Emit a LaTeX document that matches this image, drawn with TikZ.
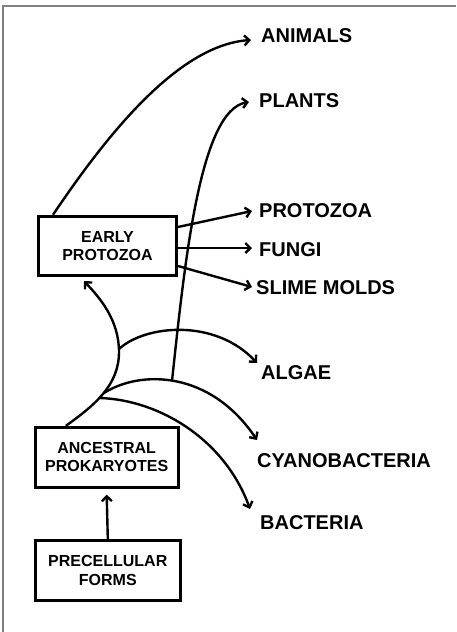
\documentclass[tikz,border=0pt]{standalone}
\usepackage{fontspec}
\setmainfont{Liberation Sans}
\usetikzlibrary{arrows.meta}
\begin{document}
\begin{tikzpicture}[x=1pt,y=-1pt,
  box/.style={draw, line width=3pt, inner sep=0pt, align=center,
    font=\fontsize{16}{18.3}\selectfont\bfseries},
  lbl/.style={anchor=base west, inner sep=0pt, font=\fontsize{20}{22}\selectfont\bfseries},
  conn/.style={line width=2.4pt},
  arr/.style={conn, -{Straight Barb[length=5pt,width=10pt,line width=2.4pt]}}]
\useasboundingbox (0,0) rectangle (456,632);
\draw[gray, line width=1.2pt] (3,632) -- (3,6) -- (456,6);

% boxes
\node[box, minimum width=138pt, minimum height=59pt] (early) at (107.5,245.8) {EARLY\\PROTOZOA};
\node[box, minimum width=142.7pt, minimum height=59.7pt] (ancestral) at (106.7,457.2) {ANCESTRAL\\PROKARYOTES};
\node[box, minimum width=145pt, minimum height=59.6pt] (precell) at (107.8,570.5) {PRECELLULAR\\FORMS};

% labels
\node[lbl] (animals) at (261,42) {ANIMALS};
\node[lbl] (plants) at (259,107) {PLANTS};
\node[lbl] (protozoa) at (259,217) {PROTOZOA};
\node[lbl] (fungi) at (259,256) {FUNGI};
\node[lbl] (slime) at (256,294) {SLIME MOLDS};
\node[lbl] (algae) at (261,379) {ALGAE};
\node[lbl] (cyano) at (257,467) {CYANOBACTERIA};
\node[lbl] (bacteria) at (260,529) {BACTERIA};

% arrow tips and branch points
\coordinate (tA) at (251,40);
\coordinate (tP) at (249,102);
\coordinate (tPr) at (252,211);
\coordinate (tF) at (252,248);
\coordinate (tS) at (252,287);
\coordinate (tAl) at (257,363);
\coordinate (tC) at (257,440);
\coordinate (tB) at (250,509);
\coordinate (mid) at (119,352);
\coordinate (bAl) at (119,349);
\coordinate (bC) at (104,393);
\coordinate (bB) at (100,398);
\coordinate (bP) at (172,381);

% precellular -> ancestral
\draw[arr] (precell.north) -- ([yshift=-6pt]ancestral.south);

% main trunk to early protozoa
\draw[arr] ([xshift=32pt]ancestral.north west)
  .. controls (95,405) and (119,385) .. (mid)
  .. controls (119,320) and (100,298) .. ([xshift=-23.5pt,yshift=-4.3pt]early.south);

% branches
\draw[arr] (bAl) .. controls (145,325) and (215,318) .. (tAl);
\draw[arr] (bC) .. controls (140,370) and (210,370) .. (tC);
\draw[arr] (bB) .. controls (160,400) and (225,440) .. (tB);
\draw[arr] (bP) .. controls (185,260) and (200,110) .. (tP);

% from early protozoa
\draw[arr] ([xshift=16pt]early.north west) .. controls (110,130) and (180,45) .. (tA);
\draw[arr] ([yshift=18.8pt]early.east) -- (tPr);
\draw[arr] ([yshift=-2.2pt]early.east) -- (tF);
\draw[arr] ([yshift=-20.2pt]early.east) -- (tS);
\end{tikzpicture}
\end{document}
